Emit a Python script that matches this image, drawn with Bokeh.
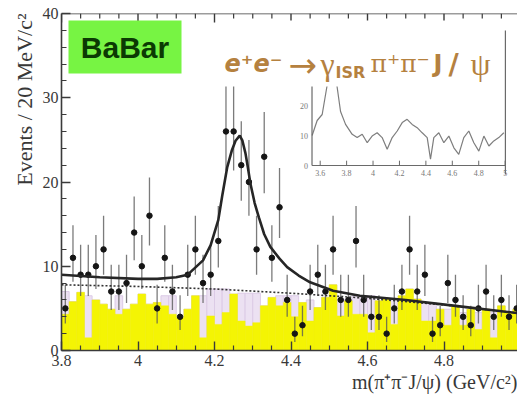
import numpy as np
from bokeh.plotting import figure
from bokeh.models import Range1d, FixedTicker, Label, BoxAnnotation, ColumnDataSource, Title
from bokeh.embed import file_html
from bokeh.resources import INLINE
from bokeh.core.properties import value

# ---------------- data ----------------
bin_low = 3.80
bin_width = 0.02
events = [5, 11, 9, 9, 10, 12, 7, 7, 8, 14, 10, 16, 5, 11, 7, 4, 9, 12, 8, 9,
          13, 26, 26, 22, 20, 12, 23, 11, 17, 6, 2, 3, 7, 9, 7, 12, 6, 6, 13, 6,
          4, 4, 2, 5, 7, 12, 7, 9, 2, 3, 8, 6, 4, 3, 5, 7, 4, 6, 4, 5]
sideband_yellow = [4.3, 5.8, 6.9, 1.5, 6.0, 5.5, 4.9, 4.3, 4.9, 5.5,
                   6.7, 5.5, 5.7, 5.3, 4.3, 3.9, 4.9, 6.5, 1.5, 4.1,
                   3.1, 4.5, 6.7, 3.5, 2.9, 3.3, 5.3, 6.3, 5.3, 5.7,
                   4.0, 5.7, 3.5, 5.1, 6.3, 7.8, 4.1, 5.9, 4.3, 4.3,
                   2.1, 5.9, 6.1, 3.1, 6.5, 7.3, 6.1, 3.5, 3.5, 4.9,
                   3.0, 5.3, 3.0, 4.9, 2.5, 4.9, 1.5, 5.3, 4.5, 4.9]
sideband_lavender = [7.0, 5.8, 6.9, 6.5, 6.0, 5.5, 4.9, 6.5, 4.9, 5.5,
                     6.7, 5.5, 5.7, 6.5, 6.5, 3.9, 4.9, 6.5, 6.5, 7.3,
                     7.3, 7.3, 6.7, 6.8, 6.8, 6.8, 5.3, 6.3, 6.5, 6.5,
                     6.5, 5.7, 6.0, 5.1, 6.3, 7.8, 6.1, 5.9, 6.5, 6.5,
                     6.5, 5.9, 6.1, 6.1, 6.5, 7.3, 6.1, 5.7, 5.7, 4.9,
                     4.9, 5.3, 4.5, 4.9, 4.5, 4.9, 4.5, 5.3, 4.5, 4.9]
fit_mass = [3.80, 3.90, 4.00, 4.05, 4.10, 4.13, 4.17, 4.19, 4.21, 4.22, 4.233,
            4.245, 4.255, 4.266, 4.273, 4.281, 4.287, 4.294, 4.305, 4.316,
            4.33, 4.346, 4.37, 4.39, 4.42, 4.45, 4.51, 4.58, 4.70, 4.83, 5.00]
fit_events = [9.0, 8.7, 8.5, 8.5, 8.7, 9.0, 10.7, 12.5, 15.5, 18.3, 21.7,
              23.7, 24.9, 25.5, 24.9, 23.4, 21.8, 19.8, 17.5, 15.8,
              13.8, 12.3, 10.9, 9.9, 8.9, 8.1, 7.1, 6.5, 6.0, 5.3, 4.4]
bkg_mass = [3.80, 4.00, 4.20, 4.40, 4.60, 4.80, 5.00]
bkg_events = [7.8, 7.6, 7.3, 6.8, 6.2, 5.4, 4.4]
inset_mass = [3.539, 3.577, 3.615, 3.665, 3.690, 3.716, 3.754, 3.792, 3.842, 3.880,
              3.918, 3.956, 3.993, 4.031, 4.069, 4.107, 4.145, 4.183, 4.221, 4.258,
              4.296, 4.334, 4.372, 4.410, 4.435, 4.460, 4.498, 4.536, 4.574, 4.612,
              4.649, 4.687, 4.725, 4.763, 4.801, 4.839, 4.877, 4.914, 4.952, 4.990]
inset_events = [10, 15, 17, 30, 42, 30, 18, 13.7, 10.4, 9.3,
                10.4, 7.6, 9.8, 10.9, 9.3, 5.4, 9.3, 11.5, 14.3, 15.4,
                13.7, 12.6, 10.9, 9.3, 2.1, 9.3, 10.9, 7.6, 9.8, 5.9,
                3.7, 9.3, 11.5, 7.6, 4.8, 9.8, 6.5, 8.2, 9.3, 10.9]
x_ticks = [3.8, 4.0, 4.2, 4.4, 4.6, 4.8]
x_tick_labels = ["3.8", "4", "4.2", "4.4", "4.6", "4.8"]
x_minor_ticks = [3.85, 3.9, 3.95, 4.05, 4.1, 4.15, 4.25, 4.3, 4.35, 4.45, 4.5, 4.55,
                 4.65, 4.7, 4.75, 4.85, 4.9, 4.95]
y_ticks = [0, 10, 20, 30, 40]
y_tick_labels = ["0", "10", "20", "30", "40"]
y_minor_ticks = [2, 4, 6, 8, 12, 14, 16, 18, 22, 24, 26, 28, 32, 34, 36, 38]
inset_x_ticks = [3.6, 3.8, 4.0, 4.2, 4.4, 4.6, 4.8, 5.0]
inset_x_tick_labels = ["3.6", "3.8", "4", "4.2", "4.4", "4.6", "4.8", "5"]
inset_y_ticks = [0, 10, 20]
inset_y_tick_labels = ["0", "10", "20"]

# ---------------- layout constants (pixels of the reference picture) ----------------
W, H = 517, 402
FRAME_LEFT_PX, FRAME_RIGHT_PX, FRAME_TOP_PX, FRAME_BOTTOM_PX = 61, 517, 13, 350
PX_PER_GEV = 382.5
Y_MAX = 40.0
PX_PER_EVENT = (FRAME_BOTTOM_PX - FRAME_TOP_PX) / Y_MAX
X_START = 3.8
X_END = X_START + (FRAME_RIGHT_PX - FRAME_LEFT_PX) / PX_PER_GEV


def px2x(px):
    return X_START + (px - FRAME_LEFT_PX) / PX_PER_GEV


def px2y(py):
    return (FRAME_BOTTOM_PX - py) / PX_PER_EVENT


# inset: 3.6 GeV at x 319.7 px, 132.1 px/GeV; 0 events at y 165 px, 3 px/event
INSET_REF_M, INSET_REF_PX, INSET_PX_PER_GEV = 3.6, 319.7, 132.1
INSET_ZERO_PY, INSET_PX_PER_EVENT = 165.0, 3.0
inset_xr = Range1d(INSET_REF_M - (INSET_REF_PX - FRAME_LEFT_PX) / INSET_PX_PER_GEV,
                   INSET_REF_M + (FRAME_RIGHT_PX - INSET_REF_PX) / INSET_PX_PER_GEV)
inset_yr = Range1d(-(FRAME_BOTTOM_PX - INSET_ZERO_PY) / INSET_PX_PER_EVENT,
                   (INSET_ZERO_PY - FRAME_TOP_PX) / INSET_PX_PER_EVENT)
INSET_X0, INSET_X1, INSET_YTOP = 3.538, 5.002, 45.0

p = figure(width=W, height=H, output_backend="svg", toolbar_location=None,
           x_range=Range1d(X_START, X_END), y_range=Range1d(0, Y_MAX),
           min_border_left=FRAME_LEFT_PX, min_border_right=W - FRAME_RIGHT_PX,
           min_border_top=FRAME_TOP_PX, min_border_bottom=H - FRAME_BOTTOM_PX)
p.extra_x_ranges = {"inset": inset_xr}
p.extra_y_ranges = {"inset": inset_yr}
p.outline_line_color = None
p.xgrid.visible = False
p.ygrid.visible = False
p.background_fill_color = "white"
p.border_fill_color = "white"

AX = "#3a3a3a"
SERIF = "Liberation Serif"
TXT = "#383838"

xt = FixedTicker(ticks=x_ticks, minor_ticks=x_minor_ticks)
yt = FixedTicker(ticks=y_ticks, minor_ticks=y_minor_ticks)
p.xaxis[0].ticker = xt
p.xaxis[0].major_label_overrides = {t: l for t, l in zip(x_ticks, x_tick_labels)}
p.yaxis[0].ticker = yt
p.yaxis[0].major_label_overrides = {t: l for t, l in zip(y_ticks, y_tick_labels)}
for ax in [p.xaxis[0], p.yaxis[0]]:
    ax.axis_line_color = AX
    ax.axis_line_width = 1.6
    ax.major_tick_line_color = AX
    ax.minor_tick_line_color = AX
    ax.major_tick_line_width = 1.4
    ax.minor_tick_line_width = 1.2
    ax.major_tick_in = 9
    ax.major_tick_out = 0
    ax.minor_tick_in = 5
    ax.minor_tick_out = 0
    ax.major_label_text_font = SERIF
    ax.major_label_text_font_size = "16px"
    ax.major_label_text_color = TXT
p.xaxis[0].major_label_standoff = 4
p.yaxis[0].major_label_standoff = 3

# axis titles as side titles
p.add_layout(Title(text="Events / 20 MeV/c\u00b2", align="right", text_font=SERIF,
                   text_font_size="22px", text_font_style="normal", text_color=TXT,
                   standoff=6), "left")
p.add_layout(Title(text="m(\u03c0\u207a\u03c0\u207bJ/\u03c8) (GeV/c\u00b2)", align="right",
                   text_font=SERIF, text_font_size="20px", text_font_style="normal",
                   text_color=TXT, standoff=0), "below")

# histograms
edges_lo = bin_low + bin_width * np.arange(len(events))
centers = edges_lo + bin_width / 2
p.quad(left=edges_lo, right=edges_lo + bin_width, bottom=0, top=sideband_lavender,
       fill_color="#ece1f2", line_color="#dccbe6", line_width=1)
p.quad(left=edges_lo, right=edges_lo + bin_width, bottom=0, top=sideband_yellow,
       fill_color="#f4f404", line_color="#f4f404", line_width=0.5)

# top frame line with inward ticks
tick_major_len = 9 / PX_PER_EVENT
tick_minor_len = 5 / PX_PER_EVENT
p.segment(x0=[X_START], x1=[X_END], y0=[Y_MAX], y1=[Y_MAX], line_color=AX, line_width=1.6)
p.segment(x0=x_ticks, x1=x_ticks, y0=[Y_MAX] * len(x_ticks),
          y1=[Y_MAX - tick_major_len] * len(x_ticks), line_color=AX, line_width=1.4)
p.segment(x0=x_minor_ticks, x1=x_minor_ticks, y0=[Y_MAX] * len(x_minor_ticks),
          y1=[Y_MAX - tick_minor_len] * len(x_minor_ticks), line_color=AX, line_width=1.2)

# data with Poisson-like error bars
ev = np.array(events, dtype=float)
up = np.sqrt(ev + 0.25) + 0.5
dn = np.sqrt(ev + 0.25) - 0.5
src = ColumnDataSource(dict(x=centers, y=ev, lo=ev - dn, hi=ev + up,
                            xl=centers - 0.004, xr=centers + 0.004))
p.segment(x0="x", x1="x", y0="lo", y1="hi", source=src, line_color="#5a5a5a",
          line_width=1.3, line_alpha=0.8)
p.segment(x0="xl", x1="xr", y0="y", y1="y", source=src, line_color="#222222", line_width=1.5)
p.scatter(x="x", y="y", source=src, marker="circle", size=5.5, color="#151515")

# fit
p.line(bkg_mass, bkg_events, line_color="#333333", line_width=1.6, line_dash="2 2")
p.line(fit_mass, fit_events, line_color="#262626", line_width=2.6)

# inset
p.line(inset_mass, inset_events, x_range_name="inset", y_range_name="inset",
       line_color="#666666", line_width=1.2, line_alpha=0.85)
p.segment(x0=[INSET_X0, INSET_X0, INSET_X1], x1=[INSET_X0, INSET_X1, INSET_X1],
          y0=[0, 0, -3], y1=[INSET_YTOP, 0, INSET_YTOP],
          x_range_name="inset", y_range_name="inset", line_color="#6a6a6a", line_width=1.2)
p.segment(x0=inset_x_ticks, x1=inset_x_ticks, y0=[0] * len(inset_x_ticks),
          y1=[1.6] * len(inset_x_ticks), x_range_name="inset", y_range_name="inset",
          line_color="#6a6a6a", line_width=1)
p.text(x=inset_x_ticks, y=[-1.5] * len(inset_x_ticks), text=inset_x_tick_labels,
       x_range_name="inset", y_range_name="inset", text_font=value(SERIF),
       text_font_size="8px", text_color="#777777", text_align="center", text_baseline="top")
p.text(x=[INSET_X0 - 0.03] * len(inset_y_ticks), y=inset_y_ticks, text=inset_y_tick_labels,
       x_range_name="inset", y_range_name="inset", text_font=value(SERIF),
       text_font_size="8px", text_color="#777777", text_align="right", text_baseline="middle")

# boxes and titles
p.add_layout(BoxAnnotation(left=px2x(217), right=px2x(503), top=px2y(20), bottom=px2y(86),
                           fill_color="white", fill_alpha=1.0, line_color=None))
p.add_layout(BoxAnnotation(left=px2x(68), right=px2x(181), top=px2y(20), bottom=px2y(73),
                           fill_color="#77f443", fill_alpha=1.0, line_color=None))
p.add_layout(Label(x=px2x(124.5), y=px2y(47), text="BaBar", text_align="center",
                   text_baseline="middle", text_font="Liberation Sans", text_font_style="bold",
                   text_font_size="30px", text_color="#0b3a03"))

BROWN = "#b5813f"
pieces = [
    ("e\u207ae\u207b", 224, 63, "DejaVu Sans", "bold italic", "24px"),
    ("\u2192", 288, 64, "DejaVu Sans", "normal", "34px"),
    ("\u03b3", 320, 63, SERIF, "normal", "32px"),
    ("ISR", 335, 72, "DejaVu Sans", "bold", "16px"),
    ("\u03c0\u207a\u03c0\u207b", 370, 63, "DejaVu Serif", "normal", "25px"),
    ("J", 433, 63, "DejaVu Sans", "bold", "24px"),
    ("/", 448, 64, "DejaVu Sans", "bold", "28px"),
    ("\u03c8", 470, 63, SERIF, "normal", "32px"),
]
for txt, px, py, font, style, size in pieces:
    p.add_layout(Label(x=px2x(px), y=px2y(py), text=txt, text_align="left",
                       text_baseline="alphabetic", text_font=font, text_font_style=style,
                       text_font_size=size, text_color=BROWN))

open("out.html", "w").write(file_html(p, INLINE))
